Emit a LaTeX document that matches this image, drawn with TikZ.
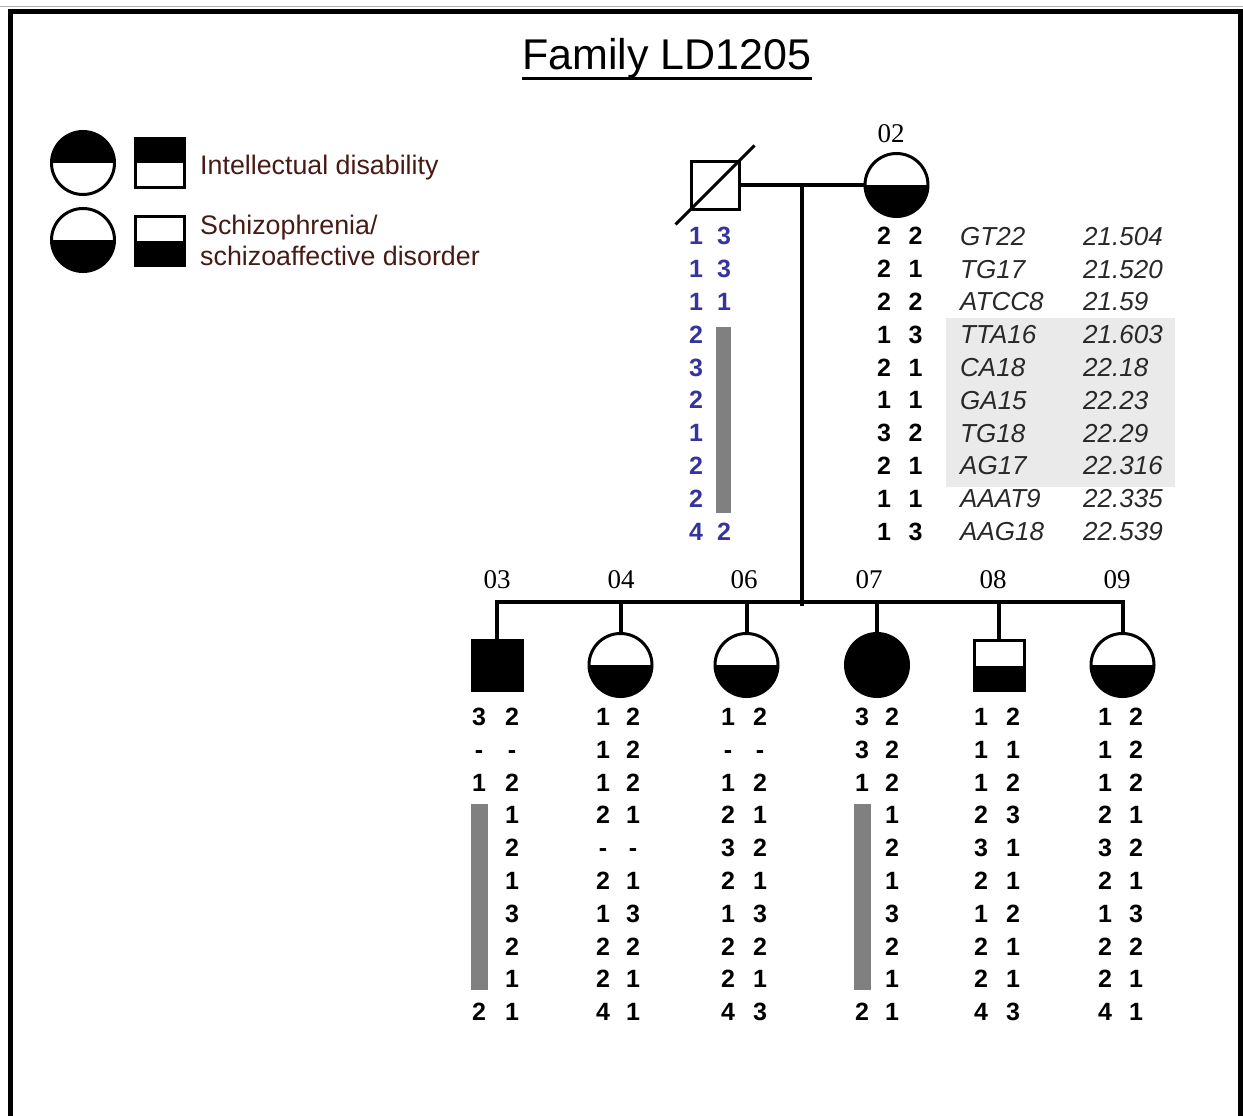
\documentclass[tikz,border=0pt]{standalone}
\usepackage{fontspec}
\setmainfont{Liberation Sans}
\newfontfamily\idfont{Liberation Serif}
\definecolor{legendtext}{RGB}{72,26,20}
\definecolor{allelblue}{RGB}{52,52,156}
\definecolor{hapbar}{RGB}{128,128,128}
\definecolor{hilite}{RGB}{234,234,234}
\definecolor{rulegray}{RGB}{175,175,175}
\definecolor{markertext}{RGB}{40,40,40}

\begin{document}
\begin{tikzpicture}[x=1pt,y=-1pt,
  sym/.style={draw=black, line width=3pt, inner sep=0pt},
  sqsym/.style={sym, rectangle, minimum size=49pt},
  circsym/.style={sym, circle, minimum size=63pt},
  lowerhalf/.style={path picture={\fill[black] (path picture bounding box.west) rectangle (path picture bounding box.south east);}},
  upperhalf/.style={path picture={\fill[black] (path picture bounding box.north west) rectangle (path picture bounding box.east);}},
  link/.style={line width=4pt, line join=miter},
  idlabel/.style={inner sep=0pt, font=\idfont\fontsize{27}{27}\selectfont},
  allele/.style={inner sep=0pt, text height=17.9pt, text depth=0pt, font=\fontsize{25}{25}\selectfont\bfseries},
  marker/.style={anchor=west, inner sep=0pt, text height=18.6pt, text depth=0pt, text=markertext, font=\fontsize{26}{26}\selectfont\itshape},
  legtext/.style={anchor=base west, inner sep=0pt, text=legendtext, font=\fontsize{26.8}{26.8}\selectfont}
]
\useasboundingbox (0,0) rectangle (1243,1116);

% frame
\draw[rulegray, line width=1.5pt] (0,6.5) -- (1243,6.5);
\draw[line width=5pt, line join=miter] (10.5,1116) -- (10.5,11.5) -- (1240.5,11.5) -- (1240.5,1116);

% title
\node[anchor=base, inner sep=0pt, font=\fontsize{43}{43}\selectfont] (title) at (667,70) {Family LD1205};
\draw[line width=3pt] ([yshift=-8.5pt]title.base west) -- ([yshift=-8.5pt]title.base east);

% legend
\node[circsym, upperhalf] (legIDc) at (83,163) {};
\node[sqsym, upperhalf] (legIDs) at (160,163) {};
\node[circsym, lowerhalf] (legSZc) at (83,240) {};
\node[sqsym, lowerhalf] (legSZs) at (160,241) {};
\node[legtext] (legID) at (200,174) {Intellectual disability};
\node[legtext] (legSZa) at (200,234) {Schizophrenia/};
\node[legtext] (legSZb) at (200,265.5) {schizoaffective disorder};

% parents
\node[sqsym, minimum size=48pt] (i01) at (715,185) {};
\draw[line width=3pt] ([shift={(-14pt,-14pt)}]i01.south west) -- ([shift={(14pt,14pt)}]i01.north east);
\node[circsym, lowerhalf] (i02) at (896.5,185) {};
\node[idlabel] (l02) at (891,134) {02};

\coordinate (mar) at (802,185);
\coordinate (sibline) at (802,602);
\coordinate (sibend) at (802,606);
\draw[link] (i01.east) -- (i02.west);
\draw[link] (mar) -- (sibend);

% children
\node[sqsym, minimum size=50pt, fill=black] (c03) at (497,665.5) {};
\node[circsym, lowerhalf] (c04) at (620.5,665) {};
\node[circsym, lowerhalf] (c06) at (746.5,665) {};
\node[circsym, fill=black] (c07) at (877,665) {};
\node[sqsym, minimum size=50pt, lowerhalf] (c08) at (999,665.5) {};
\node[circsym, lowerhalf] (c09) at (1122.5,665) {};

\draw[link] (c03.north) -- (c03.north |- sibline) -- (c09.north |- sibline) -- (c09.north);
\foreach \c in {c04,c06,c07,c08}
  \draw[link] (\c.north) -- (\c.north |- sibline);

\node[idlabel] (l03) at (497,580) {03};
\node[idlabel] (l04) at (621,580) {04};
\node[idlabel] (l06) at (744,580) {06};
\node[idlabel] (l07) at (869,580) {07};
\node[idlabel] (l08) at (993,580) {08};
\node[idlabel] (l09) at (1117,580) {09};

% highlighted marker interval
\fill[hilite] (946,318) rectangle (1175,487);

% shared haplotype bars
\fill[hapbar] (716,327) rectangle (731,513);
\fill[hapbar] (471,804) rectangle (488,990);
\fill[hapbar] (854,804) rectangle (871,990);

% markers and positions
\foreach \r/\n/\p in {1/GT22/21.504, 2/TG17/21.520, 3/ATCC8/21.59, 4/TTA16/21.603,
    5/CA18/22.18, 6/GA15/22.23, 7/TG18/22.29, 8/AG17/22.316, 9/AAAT9/22.335, 10/AAG18/22.539}{
  \node[marker] (mk\r) at (960,{236+32.8*(\r-1)}) {\n};
  \node[marker] (mp\r) at (1083,{236+32.8*(\r-1)}) {\p};
}

% parental genotypes
\foreach \r/\v in {1/1,2/1,3/1,4/2,5/3,6/2,7/1,8/2,9/2,10/4}
  \node[allele, text=allelblue] (a01L\r) at (696,{236+32.8*(\r-1)}) {\v};
\foreach \r/\v in {1/3,2/3,3/1,10/2}
  \node[allele, text=allelblue] (a01R\r) at (724,{236+32.8*(\r-1)}) {\v};
\foreach \r/\u/\v in {1/2/2,2/2/1,3/2/2,4/1/3,5/2/1,6/1/1,7/3/2,8/2/1,9/1/1,10/1/3}{
  \node[allele] (a02L\r) at (884,{236+32.8*(\r-1)}) {\u};
  \node[allele] (a02R\r) at (915.5,{236+32.8*(\r-1)}) {\v};
}

% offspring genotypes
\foreach \r/\v in {1/3,2/-,3/1,10/2}
  \node[allele] (a03L\r) at (479,{716.5+32.8*(\r-1)}) {\v};
\foreach \r/\v in {1/2,2/-,3/2,4/1,5/2,6/1,7/3,8/2,9/1,10/1}
  \node[allele] (a03R\r) at (512,{716.5+32.8*(\r-1)}) {\v};

\foreach \r/\u/\v in {1/1/2,2/1/2,3/1/2,4/2/1,5/-/-,6/2/1,7/1/3,8/2/2,9/2/1,10/4/1}{
  \node[allele] (a04L\r) at (603,{716.5+32.8*(\r-1)}) {\u};
  \node[allele] (a04R\r) at (633,{716.5+32.8*(\r-1)}) {\v};
}
\foreach \r/\u/\v in {1/1/2,2/-/-,3/1/2,4/2/1,5/3/2,6/2/1,7/1/3,8/2/2,9/2/1,10/4/3}{
  \node[allele] (a06L\r) at (728,{716.5+32.8*(\r-1)}) {\u};
  \node[allele] (a06R\r) at (760,{716.5+32.8*(\r-1)}) {\v};
}

\foreach \r/\v in {1/3,2/3,3/1,10/2}
  \node[allele] (a07L\r) at (862,{716.5+32.8*(\r-1)}) {\v};
\foreach \r/\v in {1/2,2/2,3/2,4/1,5/2,6/1,7/3,8/2,9/1,10/1}
  \node[allele] (a07R\r) at (892,{716.5+32.8*(\r-1)}) {\v};

\foreach \r/\u/\v in {1/1/2,2/1/1,3/1/2,4/2/3,5/3/1,6/2/1,7/1/2,8/2/1,9/2/1,10/4/3}{
  \node[allele] (a08L\r) at (981,{716.5+32.8*(\r-1)}) {\u};
  \node[allele] (a08R\r) at (1013,{716.5+32.8*(\r-1)}) {\v};
}
\foreach \r/\u/\v in {1/1/2,2/1/2,3/1/2,4/2/1,5/3/2,6/2/1,7/1/3,8/2/2,9/2/1,10/4/1}{
  \node[allele] (a09L\r) at (1105,{716.5+32.8*(\r-1)}) {\u};
  \node[allele] (a09R\r) at (1136,{716.5+32.8*(\r-1)}) {\v};
}
\end{tikzpicture}
\end{document}
